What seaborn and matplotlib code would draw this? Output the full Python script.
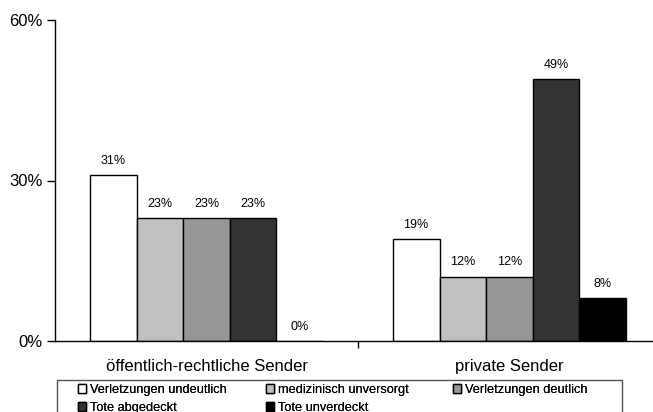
import matplotlib
matplotlib.use("Agg")
import matplotlib.pyplot as plt
from matplotlib.patches import Rectangle
from matplotlib.ticker import FuncFormatter, FixedLocator
import seaborn as sns
import pandas as pd

sns.set_style("white")
plt.rcParams["font.family"] = ["Liberation Sans", "DejaVu Sans"]
plt.rcParams["text.color"] = "black"
plt.rcParams["xtick.color"] = "black"
plt.rcParams["ytick.color"] = "black"

senders = ["öffentlich-rechtliche Sender", "private Sender"]
categories = ["Verletzungen undeutlich", "medizinisch unversorgt",
              "Verletzungen deutlich", "Tote abgedeckt", "Tote unverdeckt"]
oeffentlich = [31, 23, 23, 23, 0]
privat = [19, 12, 12, 49, 8]
colors = ["#ffffff", "#c0c0c0", "#969696", "#333333", "#000000"]

df = pd.DataFrame({
    "Sender": [senders[0]] * len(categories) + [senders[1]] * len(categories),
    "Kategorie": categories * 2,
    "Anteil": oeffentlich + privat,
})

W, H = 653, 412
fig = plt.figure(figsize=(W / 100, H / 100), dpi=100)
ax = fig.add_axes([55 / W, 1 - 341 / H, (661 - 55) / W, (341 - 20) / H])

sns.barplot(data=df, x="Sender", y="Anteil", hue="Kategorie", order=senders,
            hue_order=categories, palette=colors, width=0.77,
            edgecolor="black", linewidth=1, saturation=1, ax=ax, legend=True)

for cont in ax.containers:
    ax.bar_label(cont, labels=[f"{v:.0f}%" for v in cont.datavalues],
                 padding=6, fontsize=9, color="black")

ax.set_ylim(0, 60)
ax.set_xlim(-0.5, 1.5)
ax.yaxis.set_major_locator(FixedLocator([0, 30, 60]))
ax.yaxis.set_major_formatter(FuncFormatter(lambda v, _: f"{v:.0f}%"))
ax.set_xlabel("")
ax.set_ylabel("")
for s in ["top", "right"]:
    ax.spines[s].set_visible(False)
for s in ["left", "bottom"]:
    ax.spines[s].set_color("black")
    ax.spines[s].set_linewidth(1)

# separator tick between the two groups, labels centred under each group
ax.set_xticks([0.5])
ax.set_xticklabels([""])
ax.set_xticks([0, 1], minor=True)
ax.set_xticklabels(senders, minor=True, fontsize=12, color="black")
ax.tick_params(axis="x", which="major", direction="out", length=5, width=1,
               color="black", bottom=True)
ax.tick_params(axis="x", which="minor", length=0, pad=13)
ax.tick_params(axis="y", direction="out", length=6, width=1, color="black",
               left=True, labelsize=12, labelcolor="black", pad=3)

# legend: boxed area below the axis, three equal-width columns
handles, labels = ax.get_legend_handles_labels()
ax.get_legend().remove()
fig.add_artist(Rectangle((57 / W, -0.05), (622 - 57) / W, 1 - 380 / H + 0.05,
                         transform=fig.transFigure, facecolor="white",
                         edgecolor="#555555", linewidth=1, zorder=1))
columns = [[0, 3], [1, 4], [2]]
col_x = [78, 266, 453]
for idx, x0 in zip(columns, col_x):
    leg = fig.legend([handles[i] for i in idx], [labels[i] for i in idx],
                     ncol=1, loc="upper left",
                     bbox_to_anchor=(x0 / W, 1 - 384 / H),
                     fontsize=9.2, frameon=False, handlelength=0.65,
                     handleheight=0.65, handletextpad=0.3, borderpad=0,
                     labelspacing=0.45, borderaxespad=0)
    leg.set_zorder(2)
    fig.add_artist(leg)

fig.savefig("out.png", dpi=100)
